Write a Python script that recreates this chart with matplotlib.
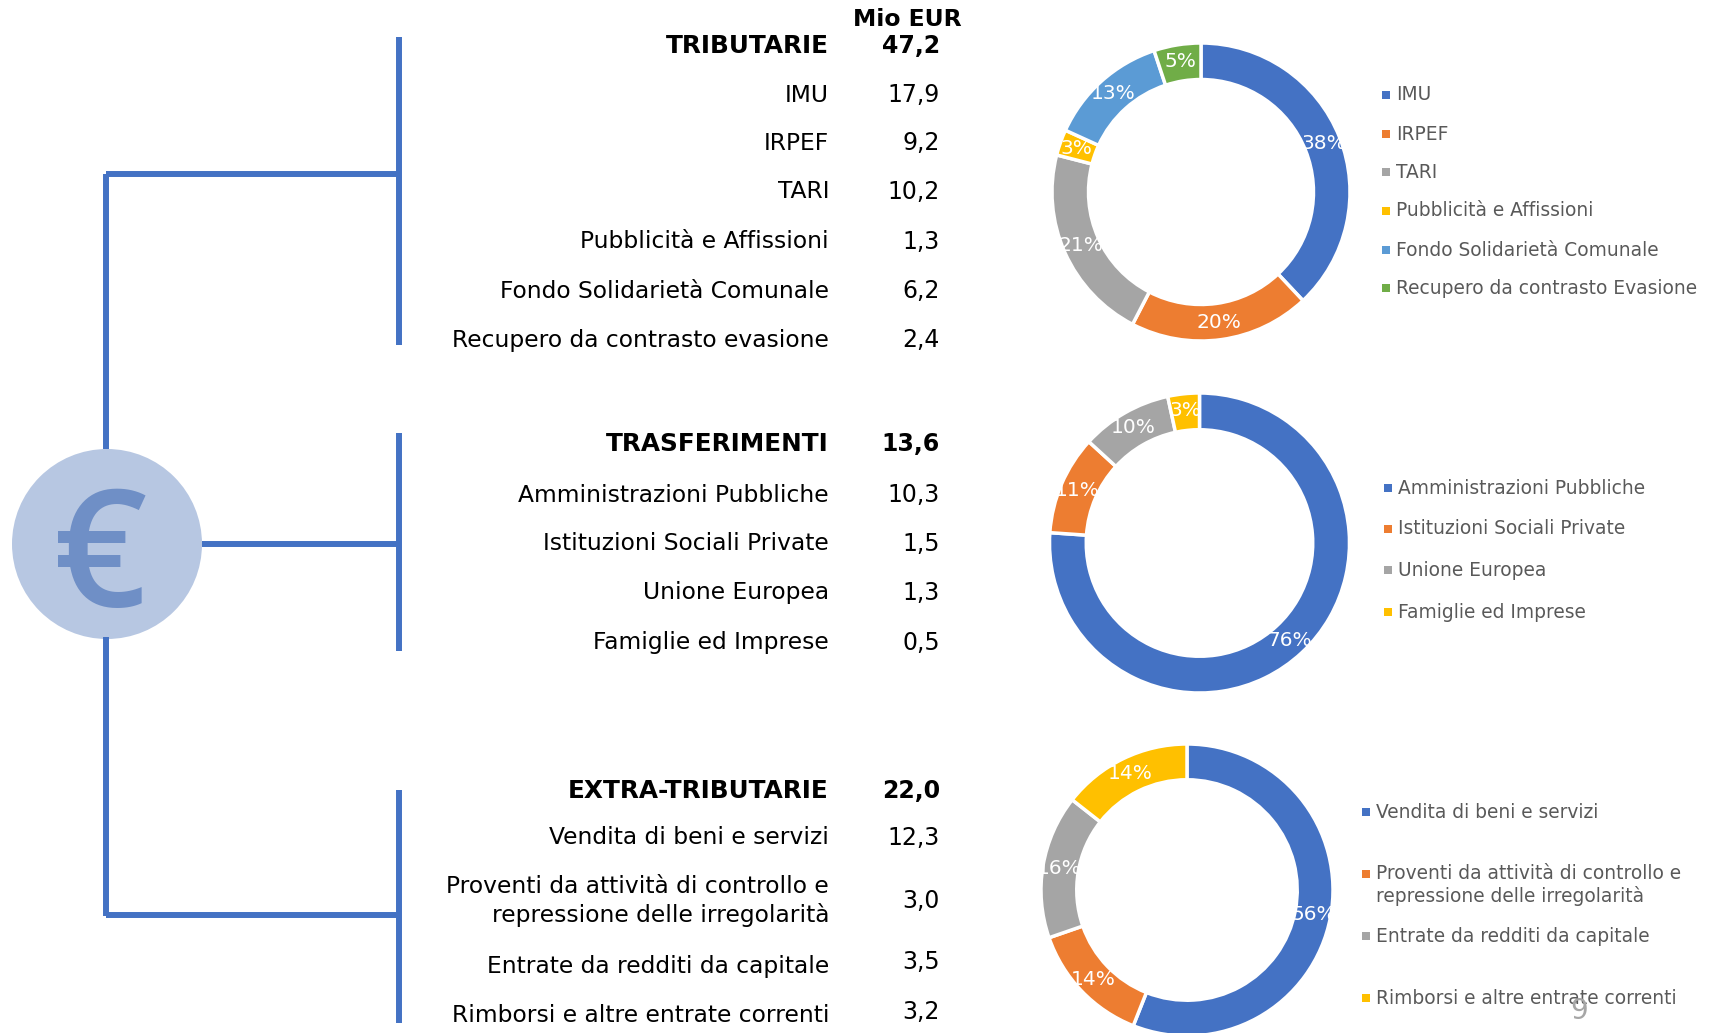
"""Entrate: three bracketed tables of amounts, each with a donut of shares."""
import matplotlib
matplotlib.use("Agg")
import matplotlib.pyplot as plt
from matplotlib.patches import Circle

W, H = 1716, 1033
BLUE, ORANGE, GRAY, YELLOW, LIGHT, GREEN = "#4472C4", "#ED7D31", "#A5A5A5", "#FFC000", "#5B9BD5", "#70AD47"

# table data
trib_names = ["IMU", "IRPEF", "TARI", "Pubblicità e Affissioni",
              "Fondo Solidarietà Comunale", "Recupero da contrasto evasione"]
trib_values = [17.9, 9.2, 10.2, 1.3, 6.2, 2.4]
trasf_names = ["Amministrazioni Pubbliche", "Istituzioni Sociali Private",
               "Unione Europea", "Famiglie ed Imprese"]
trasf_values = [10.3, 1.5, 1.3, 0.5]
extra_names = ["Vendita di beni e servizi",
               "Proventi da attività di controllo e\nrepressione delle irregolarità",
               "Entrate da redditi da capitale", "Rimborsi e altre entrate correnti"]
extra_values = [12.3, 3.0, 3.5, 3.2]
group_names = ["TRIBUTARIE", "TRASFERIMENTI", "EXTRA-TRIBUTARIE"]
group_totals = [47.2, 13.6, 22.0]

# donut shares (they round to the printed labels)
trib_shares = [38.0, 19.6, 21.4, 2.8, 13.1, 5.1]
trasf_shares = [76.1, 10.7, 9.8, 3.4]
extra_shares = [56.0, 13.7, 15.9, 14.4]

# legends
trib_legend = ["IMU", "IRPEF", "TARI", "Pubblicità e Affissioni",
               "Fondo Solidarietà Comunale", "Recupero da contrasto Evasione"]
trasf_legend = trasf_names
extra_legend = extra_names

COLORS = [BLUE, ORANGE, GRAY, YELLOW, LIGHT, GREEN]


def num(v):
    return f"{v:.1f}".replace(".", ",")


def py(y):
    """Pixel row from the top of the image to axes y."""
    return H - y


fig = plt.figure(figsize=(W / 100, H / 100), dpi=100, facecolor="white")
ax = fig.add_axes([0, 0, 1, 1])
plt.rcParams["font.family"] = ["DejaVu Sans"]


def donut(shares, cx, cy, r, explode=0.0):
    ax.pie(shares, colors=COLORS[:len(shares)], startangle=90, counterclock=False,
           center=(cx, py(cy)), radius=r, frame=True,
           explode=[0] + [explode] * (len(shares) - 1),
           wedgeprops=dict(width=0.245 * r, edgecolor="white", linewidth=2.5),
           autopct=lambda p: f"{p:.0f}%", pctdistance=0.885,
           textprops=dict(color="white", fontsize=14.5))


def legend(names, rows, marker_x, text_x, marker_rows=None):
    for i, (name, y) in enumerate(zip(names, rows)):
        ax.text(text_x, py(y), name, fontsize=13.4, color="#595959", va="center",
                linespacing=1.2)
        my = marker_rows[i] if marker_rows else y
        ax.scatter([marker_x], [py(my)], marker="s", s=26, color=COLORS[i], linewidths=0)


def table(group, total, names, values, group_y, rows, value_rows=None):
    ax.text(829, py(group_y), group, fontsize=17.8, fontweight="bold", ha="right", va="center")
    ax.text(940, py(group_y), num(total), fontsize=17, fontweight="bold", ha="right", va="center")
    for i, (name, v) in enumerate(zip(names, values)):
        ax.text(829, py(rows[i]), name, fontsize=16.8, ha="right", va="center",
                multialignment="right", linespacing=1.3)
        vy = value_rows[i] if value_rows else rows[i]
        ax.text(940, py(vy), num(v), fontsize=17, ha="right", va="center")


donut(trib_shares, 1201, 192, 149)
donut(trasf_shares, 1199.5, 543, 150, explode=0.02)
donut(extra_shares, 1187, 890, 146, explode=0.012)

legend(trib_legend, [95, 134, 172, 211, 250, 288], 1386, 1396)
legend(trasf_legend, [488, 529, 570, 612], 1388, 1398)
legend(extra_legend, [812, 885, 936, 998], 1366, 1376, marker_rows=[812, 874, 936, 998])

ax.text(907, py(19), "Mio EUR", fontsize=16.9, fontweight="bold", ha="center", va="center")
table(group_names[0], group_totals[0], trib_names, trib_values, 46,
      [95, 143, 192, 242, 291, 340])
table(group_names[1], group_totals[1], trasf_names, trasf_values, 444,
      [495, 544, 593, 643])
table(group_names[2], group_totals[2], extra_names, extra_values, 791,
      [838, 901, 966, 1015], value_rows=[838, 901, 962, 1012])

# tree connecting the euro coin to the three brackets
segments = [((106, 174), (106, 449)), ((106, 637), (106, 916)),
            ((106, 174), (398, 174)), ((202, 544), (399, 544)), ((106, 915), (398, 915)),
            ((399, 37), (399, 345)), ((399, 433), (399, 651)), ((399, 790), (399, 1023))]
for (x0, y0), (x1, y1) in segments:
    ax.plot([x0, x1], [py(y0), py(y1)], color=BLUE, lw=4.3, solid_capstyle="butt")

ax.add_patch(Circle((107, py(544)), 95, facecolor="#B7C7E2", edgecolor="none"))
ax.text(100, py(544), "€", fontsize=118, color="#6F8FC6", family="Open Sans",
        fontweight=600, ha="center", va="center_baseline")

ax.text(1579, py(1011), "9", fontsize=20, color="#A6A6A6", ha="center", va="center")

ax.set_xlim(0, W)
ax.set_ylim(0, H)
ax.set_aspect("auto")
ax.axis("off")

fig.savefig("out.png", dpi=100, facecolor="white")
